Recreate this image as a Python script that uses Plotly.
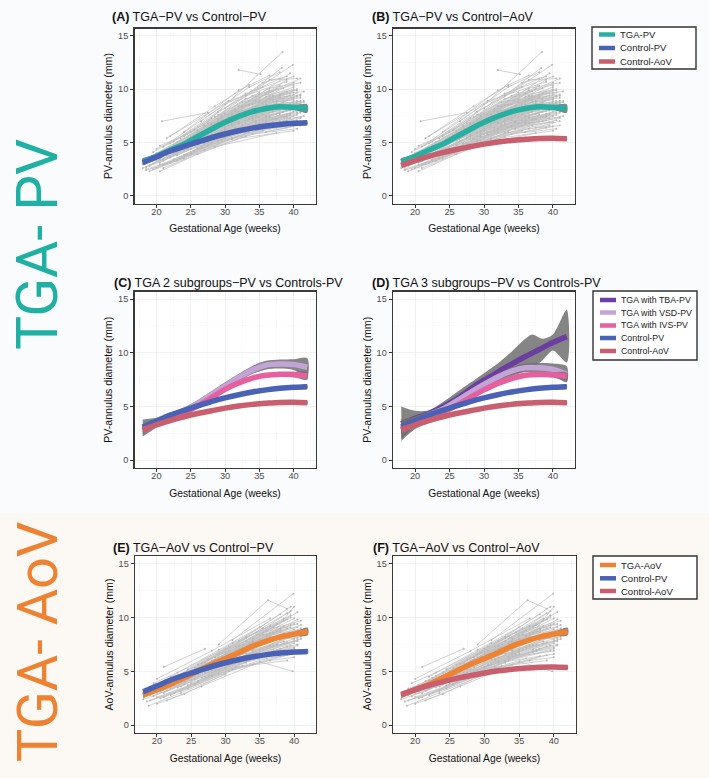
import plotly.graph_objects as go

# ---------------- data ----------------
WEEKS = [18, 20, 22, 24, 26, 28, 30, 32, 34, 36, 38, 40, 42]

TGA_PV = [3.2, 3.7, 4.3, 4.85, 5.55, 6.25, 6.9, 7.45, 7.9, 8.2, 8.35, 8.3, 8.2]
TGA_PV_CI = [0.35, 0.2, 0.15, 0.12, 0.12, 0.12, 0.12, 0.12, 0.12, 0.13, 0.15, 0.22, 0.4]
CTRL_PV = [3.1, 3.65, 4.2, 4.65, 5.05, 5.45, 5.8, 6.1, 6.35, 6.55, 6.7, 6.8, 6.85]
CTRL_PV_CI = [0.2, 0.12, 0.1, 0.1, 0.1, 0.1, 0.1, 0.1, 0.1, 0.1, 0.1, 0.12, 0.18]
CTRL_AOV = [2.85, 3.3, 3.7, 4.05, 4.35, 4.6, 4.85, 5.05, 5.2, 5.3, 5.38, 5.4, 5.35]
CTRL_AOV_CI = [0.2, 0.12, 0.1, 0.1, 0.1, 0.1, 0.1, 0.1, 0.1, 0.1, 0.1, 0.12, 0.18]

VSD_C = [3.0, 3.5, 4.05, 4.6, 5.3, 6.1, 6.9, 7.7, 8.4, 8.85, 8.95, 8.9, 8.65]
VSD_C_CI = [0.8, 0.45, 0.3, 0.28, 0.3, 0.32, 0.35, 0.35, 0.38, 0.4, 0.42, 0.5, 0.85]
IVS_C = [2.8, 3.4, 3.95, 4.45, 5.05, 5.8, 6.6, 7.2, 7.65, 7.9, 8.0, 7.98, 7.85]
IVS_C_CI = [0.35, 0.25, 0.18, 0.15, 0.15, 0.15, 0.15, 0.15, 0.15, 0.15, 0.18, 0.25, 0.35]

TBA_D = [3.4, 3.9, 4.35, 4.95, 5.7, 6.6, 7.45, 8.2, 8.95, 9.65, 10.3, 10.95, 11.5]
TBA_BAND_WEEKS = [18, 20, 22, 24, 26, 28, 30, 32, 34, 36, 37, 38.5, 40, 42]
TBA_UPPER = [5.0, 4.6, 4.65, 5.4, 6.3, 7.2, 8.1, 9.0, 10.1, 11.3, 11.7, 11.3, 11.7, 14.0]
TBA_LOWER = [1.8, 2.9, 3.5, 4.2, 5.0, 5.9, 6.7, 7.3, 7.8, 8.3, 8.6, 9.3, 10.2, 9.1]
VSD_D = [2.9, 3.6, 4.2, 4.75, 5.5, 6.3, 7.05, 7.75, 8.3, 8.6, 8.6, 8.45, 8.0]
VSD_D_CI = [0.9, 0.5, 0.35, 0.3, 0.3, 0.3, 0.3, 0.3, 0.35, 0.4, 0.45, 0.55, 0.75]
IVS_D = [2.8, 3.4, 3.95, 4.5, 5.1, 5.85, 6.55, 7.15, 7.6, 7.9, 7.98, 7.95, 7.8]
IVS_D_CI = [0.35, 0.25, 0.18, 0.15, 0.15, 0.15, 0.15, 0.15, 0.15, 0.15, 0.18, 0.25, 0.35]

TGA_AOV = [2.8, 3.3, 3.8, 4.4, 5.05, 5.65, 6.2, 6.75, 7.35, 7.8, 8.2, 8.45, 8.7]
TGA_AOV_CI = [0.3, 0.18, 0.12, 0.12, 0.12, 0.12, 0.12, 0.12, 0.12, 0.13, 0.15, 0.2, 0.35]

# individual TGA pulmonary-valve trajectories (week, mm)
PV_TRAJ = [
    [(18.5, 2.4), (25.0, 3.9), (33.5, 6.0)],
    [(19.0, 2.8), (27.0, 4.9), (36.0, 6.9)],
    [(19.5, 3.3), (24.0, 4.7), (31.0, 6.9), (38.5, 8.3)],
    [(20.0, 4.0), (28.0, 6.8), (37.0, 9.4)],
    [(20.0, 3.7), (26.5, 5.8), (34.5, 8.4)],
    [(20.5, 3.4), (29.5, 6.0), (39.0, 7.7)],
    [(21.0, 4.6), (30.0, 8.6), (38.0, 11.0)],
    [(21.0, 2.6), (28.5, 4.6), (37.5, 5.9)],
    [(20.8, 7.0), (27.5, 7.8)],
    [(21.5, 4.1), (32.0, 7.6), (40.0, 8.8)],
    [(22.0, 4.9), (29.0, 7.9), (35.5, 10.2)],
    [(22.0, 3.6), (30.5, 5.7), (40.5, 7.1)],
    [(22.5, 4.3), (31.5, 7.0)],
    [(23.0, 5.0), (33.0, 8.5), (39.5, 9.6)],
    [(23.5, 4.5), (30.0, 6.3), (36.5, 7.8)],
    [(32.0, 11.8), (35.2, 11.4)],
    [(26.0, 6.1), (38.4, 13.5)],
    [(24.0, 5.6), (34.0, 9.4), (40.0, 10.4)],
    [(24.5, 3.9), (33.0, 5.9), (39.5, 6.6)],
    [(25.0, 5.5), (31.0, 7.6), (37.0, 9.0)],
    [(25.5, 5.1), (35.0, 7.9), (40.5, 8.4)],
    [(26.0, 4.8), (34.5, 6.9)],
    [(26.5, 7.0), (33.5, 10.2), (38.0, 11.6)],
    [(27.0, 5.9), (36.0, 8.4), (41.0, 8.7)],
    [(27.5, 5.0), (37.5, 7.2)],
    [(28.0, 6.5), (35.5, 8.6)],
    [(28.5, 7.4), (39.0, 9.8)],
    [(29.0, 5.0), (36.5, 6.3), (41.0, 6.6)],
    [(29.5, 7.3), (38.0, 9.2)],
    [(30.0, 6.4), (37.0, 7.9), (41.5, 8.1)],
    [(18.0, 2.6), (22.0, 3.7), (30.0, 6.1)],
    [(18.5, 3.3), (23.0, 4.5), (29.5, 6.9), (36.0, 8.9)],
    [(19.0, 3.6), (25.5, 5.6), (32.5, 8.0)],
    [(19.0, 2.3), (24.0, 3.5), (31.0, 5.4), (39.0, 6.4)],
    [(19.5, 3.0), (28.0, 5.6), (35.0, 7.4)],
    [(20.0, 4.4), (25.0, 6.0), (33.0, 9.6), (40.0, 11.2)],
    [(20.5, 2.9), (26.0, 4.4), (34.0, 6.5), (41.0, 7.3)],
    [(20.5, 4.7), (27.0, 6.5), (36.5, 9.9)],
    [(21.0, 3.3), (29.0, 5.9), (38.5, 7.9)],
    [(21.5, 3.8), (27.5, 5.7), (35.0, 8.0)],
    [(21.5, 5.4), (30.5, 8.9), (39.0, 10.7)],
    [(22.0, 3.1), (31.0, 5.3), (40.0, 6.1)],
    [(22.5, 4.8), (28.0, 6.7), (37.5, 8.9)],
    [(23.0, 3.8), (29.5, 5.8), (38.0, 7.0)],
    [(23.5, 5.4), (32.5, 8.8), (41.0, 9.5)],
    [(24.0, 4.2), (32.0, 6.8), (40.5, 7.8)],
    [(24.5, 4.9), (30.5, 7.1), (36.0, 8.6)],
    [(25.0, 4.4), (34.0, 7.3), (39.5, 8.0)],
    [(25.5, 6.2), (33.0, 9.1), (38.5, 10.1)],
    [(26.0, 5.6), (31.5, 7.3), (40.0, 9.1)],
    [(26.5, 4.6), (35.5, 7.1)],
    [(27.0, 6.6), (34.5, 9.3), (40.5, 10.0)],
    [(27.5, 5.5), (32.0, 6.9), (38.0, 8.1)],
    [(28.0, 6.0), (37.0, 8.2), (41.0, 8.0)],
    [(28.5, 5.4), (36.0, 7.4)],
    [(29.0, 7.0), (35.0, 9.0), (40.0, 9.7)],
    [(29.5, 6.1), (38.5, 8.5)],
    [(30.0, 7.7), (36.5, 10.1), (41.0, 10.6)],
    [(30.5, 5.9), (39.0, 7.4)],
    [(31.0, 6.8), (37.5, 8.6), (41.5, 8.9)],
    [(31.5, 7.9), (38.0, 10.3)],
    [(32.0, 6.3), (39.5, 7.7)],
    [(32.5, 7.4), (40.0, 9.2)],
    [(33.0, 6.8), (37.0, 7.9), (41.0, 8.4)],
    [(33.5, 8.5), (39.0, 10.9)],
    [(34.0, 7.1), (40.5, 8.2)],
    [(34.5, 6.3), (38.5, 7.0), (41.5, 7.5)],
    [(35.0, 8.8), (40.0, 10.0)],
    [(35.5, 7.6), (41.0, 8.9)],
    [(36.0, 6.8), (40.0, 7.5)],
    [(18.0, 3.0), (21.5, 3.9), (28.0, 6.0), (34.0, 7.9)],
    [(18.5, 2.7), (26.5, 5.1), (36.5, 7.5)],
    [(19.0, 3.2), (24.5, 5.1), (30.5, 7.6), (37.5, 10.0)],
    [(19.5, 2.5), (27.5, 4.7), (37.0, 6.6)],
    [(20.0, 3.3), (23.5, 4.6), (32.5, 7.3), (39.5, 8.6)],
    [(20.5, 3.8), (30.0, 7.0), (40.5, 9.4)],
    [(21.0, 2.9), (25.0, 4.0), (33.5, 6.4), (40.0, 6.9)],
    [(21.5, 4.4), (29.0, 7.2), (36.0, 9.6), (41.0, 11.0)],
    [(22.0, 4.0), (28.5, 6.2), (35.0, 8.2)],
    [(22.5, 3.4), (32.0, 6.0), (39.0, 7.1)],
    [(23.0, 4.4), (31.0, 7.2), (40.0, 9.9)],
    [(23.5, 3.5), (30.0, 5.4), (37.0, 6.9)],
    [(24.0, 5.0), (33.5, 8.1), (41.0, 8.6)],
    [(24.5, 4.4), (29.0, 5.9), (38.5, 8.8)],
    [(25.0, 5.0), (36.5, 9.1)],
    [(25.5, 4.2), (31.5, 6.1), (39.5, 7.3)],
    [(26.0, 5.2), (34.0, 7.6), (40.0, 8.3)],
    [(26.5, 5.9), (35.0, 9.5), (39.5, 11.5)],
    [(27.0, 4.9), (36.0, 7.0), (41.0, 7.4)],
    [(27.5, 6.3), (37.0, 9.3)],
    [(28.0, 5.3), (34.5, 7.0), (39.5, 7.6)],
    [(28.5, 6.8), (38.0, 9.5), (41.5, 9.8)],
    [(29.0, 6.4), (35.5, 8.3)],
    [(29.5, 5.5), (40.0, 7.9)],
    [(30.0, 6.9), (38.5, 9.6)],
    [(30.5, 7.3), (36.0, 8.9), (40.5, 9.3)],
    [(31.0, 6.0), (37.0, 7.2)],
    [(31.5, 7.1), (39.5, 8.6)],
    [(29.0, 7.6), (39.9, 12.3)],
    [(33.0, 9.4), (38.3, 12.0)],
    [(35.5, 10.6), (39.0, 11.2)],
    [(30.0, 8.2), (36.5, 10.9), (40.5, 11.0)],
    [(19.5, 4.1), (22.5, 5.1), (28.0, 7.3)],
    [(34.0, 5.8), (40.5, 6.3)],
    [(36.0, 6.0), (40.0, 6.5)],
    [(20.5, 2.3), (26.0, 3.9), (33.0, 5.6)],
    [(18.0, 3.4), (23.5, 5.0), (31.5, 8.1)],
    [(18.5, 2.5), (22.5, 3.3), (29.0, 5.2), (35.5, 6.6)],
    [(19.0, 2.9), (26.0, 5.0), (33.0, 7.1), (39.5, 8.1)],
    [(19.5, 3.6), (25.0, 5.3), (32.0, 7.9), (38.0, 9.4)],
    [(20.0, 2.6), (27.0, 4.3), (35.5, 6.1)],
    [(20.0, 3.9), (29.5, 7.5), (37.5, 8.7)],
    [(20.5, 3.1), (24.5, 4.4), (31.0, 6.6), (38.0, 7.8)],
    [(21.0, 4.0), (27.0, 6.1), (34.5, 8.9)],
    [(21.0, 3.4), (30.0, 6.7), (37.0, 8.3)],
    [(21.5, 3.0), (29.5, 5.2), (39.5, 6.9)],
    [(22.0, 4.5), (26.0, 5.9), (32.5, 8.4), (39.0, 9.3)],
    [(22.5, 3.9), (27.5, 5.4), (34.0, 7.3)],
    [(23.0, 4.1), (31.5, 7.5), (38.5, 9.1)],
    [(23.0, 3.3), (28.0, 4.9), (36.5, 6.8)],
    [(23.5, 4.8), (33.5, 8.9), (40.5, 9.9)],
    [(24.0, 3.8), (30.5, 6.0), (39.0, 7.5)],
    [(24.5, 5.3), (32.0, 8.4), (37.0, 9.8)],
    [(25.0, 4.1), (29.5, 5.6), (36.0, 7.5)],
    [(25.5, 5.7), (33.5, 8.6), (40.0, 9.5)],
    [(26.0, 4.5), (32.5, 6.7), (38.5, 7.4)],
    [(26.5, 5.4), (34.0, 8.2), (40.5, 8.9)],
    [(27.0, 5.5), (33.0, 7.4), (38.5, 8.7)],
    [(27.5, 6.8), (35.0, 9.7)],
    [(28.0, 5.7), (36.0, 8.0), (41.0, 8.3)],
    [(28.5, 6.1), (35.5, 7.9), (40.0, 8.6)],
    [(29.0, 5.6), (37.5, 7.7)],
    [(29.5, 6.7), (37.0, 8.8), (41.0, 9.2)],
    [(30.0, 5.8), (36.0, 7.1), (40.5, 7.6)],
    [(30.5, 6.6), (38.5, 8.4)],
    [(31.0, 7.7), (36.5, 9.4), (40.0, 10.2)],
    [(31.5, 6.4), (38.0, 7.6)],
    [(32.0, 7.3), (37.5, 8.9), (41.0, 9.4)],
    [(32.5, 6.5), (39.0, 8.0)],
    [(33.0, 8.0), (39.5, 9.4)],
    [(33.5, 7.2), (38.0, 8.4), (41.5, 8.8)],
    [(34.0, 8.6), (40.0, 9.0)],
    [(34.5, 7.5), (39.5, 8.3)],
    [(35.0, 6.8), (41.0, 7.8)],
    [(35.5, 8.2), (40.5, 8.7)],
    [(36.0, 9.3), (40.0, 10.6)],
    [(36.5, 7.3), (41.0, 8.0)],
    [(37.0, 8.0), (40.5, 9.7)],
    [(37.5, 6.4), (41.0, 7.0)],
    [(22.0, 5.6), (28.5, 8.4), (33.5, 10.4)],
    [(24.0, 6.0), (32.0, 9.9), (36.5, 11.3)],
]

# individual TGA aortic-valve trajectories (week, mm)
AOV_TRAJ = [
    [(18.0, 2.4), (24.0, 3.8), (32.0, 6.0)],
    [(18.5, 2.9), (25.0, 4.6), (34.5, 7.4)],
    [(18.8, 1.8), (23.5, 3.0), (30.0, 4.7)],
    [(19.0, 3.4), (26.0, 5.2), (36.0, 8.3)],
    [(19.5, 2.7), (27.5, 4.9), (37.0, 7.0)],
    [(20.0, 3.0), (24.5, 4.3), (31.0, 6.4), (38.5, 8.5)],
    [(20.0, 4.3), (28.0, 6.9), (36.5, 9.9)],
    [(20.5, 2.5), (29.0, 4.8), (38.0, 6.4)],
    [(21.0, 3.6), (30.0, 6.6), (39.5, 9.1)],
    [(21.0, 5.4), (27.0, 7.1)],
    [(21.5, 3.2), (28.5, 5.4), (35.0, 7.0)],
    [(22.0, 3.9), (31.5, 6.9), (40.0, 8.9)],
    [(22.0, 2.8), (30.5, 5.0), (39.0, 6.5)],
    [(22.5, 4.4), (29.5, 6.7), (37.5, 9.4)],
    [(23.0, 3.5), (32.0, 6.3), (40.5, 7.9)],
    [(23.5, 4.0), (30.0, 5.9), (36.0, 7.6)],
    [(24.0, 4.9), (33.0, 8.1), (39.5, 10.6)],
    [(24.5, 3.7), (34.0, 6.4), (40.0, 7.2)],
    [(25.0, 4.5), (31.0, 6.3), (38.0, 8.2)],
    [(25.5, 5.3), (35.5, 9.0)],
    [(26.0, 4.1), (33.5, 6.3), (40.0, 6.9)],
    [(26.5, 5.0), (36.0, 8.1), (41.0, 8.6)],
    [(27.0, 5.8), (34.5, 8.6), (39.5, 10.0)],
    [(27.5, 4.6), (37.0, 6.8)],
    [(28.0, 5.5), (36.5, 8.2)],
    [(28.5, 6.3), (38.5, 9.7)],
    [(29.0, 5.1), (39.0, 7.3)],
    [(29.5, 6.0), (36.0, 7.9), (41.0, 8.5)],
    [(30.0, 6.8), (39.5, 10.2)],
    [(30.5, 5.6), (40.0, 7.8)],
    [(31.0, 6.5), (37.5, 8.3), (41.5, 8.9)],
    [(31.5, 7.3), (39.0, 9.8)],
    [(32.0, 5.8), (39.5, 6.9)],
    [(32.5, 6.9), (40.0, 8.6)],
    [(33.0, 7.8), (39.0, 10.4)],
    [(33.5, 6.2), (40.5, 7.4)],
    [(34.0, 7.4), (41.0, 9.0)],
    [(35.0, 5.9), (39.8, 5.0)],
    [(35.0, 8.3), (40.0, 9.9)],
    [(35.5, 7.0), (40.5, 7.8)],
    [(29.0, 7.5), (36.2, 11.6), (39.0, 10.8)],
    [(31.0, 7.9), (39.9, 12.2)],
    [(18.5, 3.1), (22.0, 4.2), (28.5, 6.1), (35.0, 8.0)],
    [(19.0, 2.3), (25.5, 3.8), (33.0, 5.8)],
    [(19.5, 3.9), (23.0, 4.9), (30.5, 7.3)],
    [(20.0, 3.4), (26.5, 5.4), (35.5, 8.6), (40.5, 9.4)],
    [(20.5, 3.1), (27.0, 4.9), (35.0, 6.8)],
    [(21.0, 2.6), (28.0, 4.6), (36.0, 6.2)],
    [(21.5, 4.1), (29.0, 6.3), (37.5, 8.7)],
    [(22.0, 3.4), (26.0, 4.7), (33.5, 7.4), (40.0, 8.3)],
    [(22.5, 3.7), (31.0, 6.1), (38.5, 7.6)],
    [(23.0, 4.6), (30.0, 7.1), (38.0, 10.3)],
    [(23.5, 3.2), (31.5, 5.4), (39.0, 6.0)],
    [(24.0, 4.4), (32.5, 7.2), (40.5, 9.8)],
    [(24.5, 5.2), (31.0, 7.6), (36.5, 9.2)],
    [(25.0, 3.9), (33.0, 5.9), (40.0, 6.6)],
    [(25.5, 4.8), (34.0, 7.8), (40.5, 8.1)],
    [(26.0, 5.6), (32.0, 7.4), (38.0, 9.0)],
    [(26.5, 4.4), (34.5, 6.6)],
    [(27.0, 5.3), (36.0, 8.8), (41.0, 9.7)],
    [(27.5, 6.1), (35.0, 8.0)],
    [(28.0, 4.9), (37.5, 7.5)],
    [(28.5, 5.8), (34.0, 7.0), (40.0, 8.0)],
    [(29.0, 6.6), (37.0, 9.1)],
    [(30.0, 5.4), (38.0, 7.1)],
    [(30.5, 6.3), (37.0, 7.9), (41.0, 8.2)],
    [(31.0, 5.2), (36.5, 6.0), (40.0, 6.3)],
    [(32.0, 7.1), (40.5, 10.5)],
    [(33.0, 6.6), (38.5, 7.8)],
    [(34.0, 8.0), (39.5, 9.3)],
    [(36.0, 7.2), (41.0, 8.0)],
    [(37.0, 8.6), (40.0, 11.0)],
    [(20.0, 2.0), (24.0, 2.9), (30.0, 4.8)],
    [(21.5, 2.3), (26.5, 3.6), (34.0, 5.6)],
    [(18.0, 2.9), (23.0, 4.0), (30.5, 6.2)],
    [(18.5, 2.2), (24.5, 3.4), (32.5, 5.5)],
    [(19.0, 2.8), (25.0, 4.2), (31.5, 6.1), (38.0, 7.9)],
    [(19.5, 3.3), (27.0, 5.5), (34.0, 7.7)],
    [(20.0, 2.6), (26.0, 4.0), (33.5, 6.0)],
    [(20.5, 3.7), (25.5, 5.0), (32.0, 7.3), (39.0, 9.0)],
    [(21.0, 3.0), (28.0, 5.1), (36.5, 7.4)],
    [(21.5, 3.6), (27.5, 5.6), (35.5, 7.9)],
    [(22.0, 4.5), (29.0, 7.0), (35.0, 9.1)],
    [(22.5, 3.0), (30.0, 5.2), (37.5, 6.9)],
    [(23.0, 4.0), (29.5, 6.1), (38.0, 8.8)],
    [(23.5, 3.6), (31.0, 5.7), (39.5, 7.4)],
    [(24.0, 4.1), (30.5, 6.4), (37.0, 8.5)],
    [(24.5, 4.6), (33.5, 7.6), (41.0, 9.3)],
    [(25.0, 5.0), (32.0, 7.8), (38.5, 9.9)],
    [(25.5, 4.3), (31.5, 6.0), (39.0, 7.7)],
    [(26.0, 4.9), (35.0, 7.7), (41.0, 8.9)],
    [(26.5, 5.7), (33.0, 8.2), (39.5, 11.0)],
    [(27.0, 4.5), (34.0, 6.6), (40.0, 7.6)],
    [(27.5, 5.2), (36.5, 7.8)],
    [(28.0, 6.0), (35.5, 8.4), (40.5, 8.8)],
    [(28.5, 5.0), (35.0, 6.6)],
    [(29.0, 5.8), (38.0, 8.6)],
    [(29.5, 6.4), (36.5, 8.5), (40.5, 9.1)],
    [(30.0, 6.1), (37.0, 7.4)],
    [(30.5, 6.9), (38.5, 9.2)],
    [(31.5, 6.0), (39.5, 8.2)],
    [(32.5, 7.5), (38.0, 8.9)],
    [(33.0, 6.0), (40.0, 7.1)],
    [(34.0, 6.9), (39.0, 8.1)],
    [(35.0, 7.6), (41.0, 8.4)],
    [(36.0, 8.3), (40.0, 9.4)],
    [(37.5, 7.0), (40.5, 7.5)],
]

X_TICKS = [20, 25, 30, 35, 40]
Y_TICKS = [0, 5, 10, 15]

# ---------------- styling ----------------
W, H = 709, 778
FONT = "Liberation Sans, Arial, Helvetica, sans-serif"
C_TEAL = "#27b0a2"
C_BLUE = "#4a62b6"
C_RED = "#c95f6e"
C_ORANGE = "#ee8334"
C_PURPLE = "#6a3f9f"
C_LAV = "#c3a4d6"
C_PINK = "#e85f9f"
BAND = "rgba(112,112,112,0.85)"
LW = 5.5

# panel boxes in pixels: (left, right, top, bottom)
PANELS = [
    (134.5, 315.5, 28.5, 203.5),
    (393.0, 575.0, 28.5, 203.5),
    (134.5, 315.5, 291.5, 468.0),
    (393.0, 575.0, 291.5, 468.0),
    (135.0, 316.0, 556.0, 733.0),
    (393.0, 576.0, 556.0, 733.0),
]
TITLES = [
    ("<b>(A)</b> TGA\u2212PV vs Control\u2212PV", 110, 17),
    ("<b>(B)</b> TGA\u2212PV vs Control\u2212AoV", 370, 17),
    ("<b>(C)</b> TGA 2 subgroups\u2212PV vs Controls-PV", 112, 283),
    ("<b>(D)</b> TGA 3 subgroups\u2212PV vs Controls-PV", 370, 283),
    ("<b>(E)</b> TGA\u2212AoV vs Control\u2212PV", 111, 548),
    ("<b>(F)</b> TGA\u2212AoV vs Control\u2212AoV", 371, 548),
]
YTITLES = ["PV-annulus diameter (mm)"] * 4 + ["AoV-annulus diameter (mm)"] * 2

# manual legends: box (left, right, top, bottom), font size, entries (name, color, y)
LEGENDS = [
    ((592, 696, 27, 69), 9.5, [("TGA-PV", C_TEAL, 34.5), ("Control-PV", C_BLUE, 48),
                                ("Control-AoV", C_RED, 61.5)]),
    ((593, 697, 291, 360), 8.8, [("TGA with TBA-PV", C_PURPLE, 300), ("TGA with VSD-PV", C_LAV, 312.5),
                                  ("TGA with IVS-PV", C_PINK, 325.5), ("Control-PV", C_BLUE, 338),
                                  ("Control-AoV", C_RED, 351)]),
    ((593, 697, 556, 599), 9.5, [("TGA-AoV", C_ORANGE, 565), ("Control-PV", C_BLUE, 578.3),
                                  ("Control-AoV", C_RED, 591)]),
]

fig = go.Figure()


def axn(i):
    return ("x" if i == 0 else f"x{i+1}"), ("y" if i == 0 else f"y{i+1}")


def add_spaghetti(i, traj):
    xa, ya = axn(i)
    xs, ys = [], []
    for t in traj:
        for w, v in t:
            xs.append(w)
            ys.append(v)
        xs.append(None)
        ys.append(None)
    fig.add_trace(go.Scatter(
        x=xs, y=ys, mode="lines+markers", xaxis=xa, yaxis=ya,
        line=dict(color="#c2c2c2", width=0.75),
        marker=dict(size=2.0, color="#b8b8b8"),
        showlegend=False, hoverinfo="skip", connectgaps=False))


def add_band(i, x, up, lo):
    xa, ya = axn(i)
    fig.add_trace(go.Scatter(
        x=list(x) + list(x)[::-1], y=list(up) + list(lo)[::-1],
        mode="lines", fill="toself", fillcolor=BAND,
        line=dict(width=0, shape="spline", smoothing=0.8),
        xaxis=xa, yaxis=ya, showlegend=False, hoverinfo="skip"))


def add_smooth(i, y, ci, color, band=True):
    if band:
        up = [a + b for a, b in zip(y, ci)]
        lo = [a - b for a, b in zip(y, ci)]
        add_band(i, WEEKS, up, lo)
    xa, ya = axn(i)
    fig.add_trace(go.Scatter(
        x=WEEKS, y=y, mode="lines", xaxis=xa, yaxis=ya,
        line=dict(color=color, width=LW, shape="spline", smoothing=1.0),
        showlegend=False, hoverinfo="skip"))


# A
add_spaghetti(0, PV_TRAJ)
add_smooth(0, TGA_PV, TGA_PV_CI, C_TEAL)
add_smooth(0, CTRL_PV, CTRL_PV_CI, C_BLUE)
# B
add_spaghetti(1, PV_TRAJ)
add_smooth(1, TGA_PV, TGA_PV_CI, C_TEAL)
add_smooth(1, CTRL_AOV, CTRL_AOV_CI, C_RED)
# C
add_smooth(2, VSD_C, VSD_C_CI, C_LAV)
add_smooth(2, IVS_C, IVS_C_CI, C_PINK)
add_smooth(2, CTRL_PV, CTRL_PV_CI, C_BLUE)
add_smooth(2, CTRL_AOV, CTRL_AOV_CI, C_RED)
# D
add_band(3, TBA_BAND_WEEKS, TBA_UPPER, TBA_LOWER)
add_smooth(3, TBA_D, None, C_PURPLE, band=False)
add_smooth(3, VSD_D, VSD_D_CI, C_LAV)
add_smooth(3, IVS_D, IVS_D_CI, C_PINK)
add_smooth(3, CTRL_PV, CTRL_PV_CI, C_BLUE)
add_smooth(3, CTRL_AOV, CTRL_AOV_CI, C_RED)
# E
add_spaghetti(4, AOV_TRAJ)
add_smooth(4, TGA_AOV, TGA_AOV_CI, C_ORANGE)
add_smooth(4, CTRL_PV, CTRL_PV_CI, C_BLUE)
# F
add_spaghetti(5, AOV_TRAJ)
add_smooth(5, TGA_AOV, TGA_AOV_CI, C_ORANGE)
add_smooth(5, CTRL_AOV, CTRL_AOV_CI, C_RED)

layout = dict(
    width=W, height=H, autosize=False,
    margin=dict(l=0, r=0, t=0, b=0),
    paper_bgcolor="#f9fbfc", plot_bgcolor="rgba(0,0,0,0)",
    font=dict(family=FONT, color="#222222"),
    hovermode=False, showlegend=False,
)

for i, (l, r, t, b) in enumerate(PANELS):
    xk = "xaxis" if i == 0 else f"xaxis{i+1}"
    yk = "yaxis" if i == 0 else f"yaxis{i+1}"
    xa, ya = axn(i)
    layout[xk] = dict(
        domain=[l / W, r / W], anchor=ya, range=[16.8, 43.2],
        tickmode="array", tickvals=X_TICKS, ticks="outside", ticklen=3,
        ticklabelstandoff=-4,
        tickcolor="#333333", tickfont=dict(size=9.2, color="#4d4d4d"),
        showgrid=True, gridcolor="#e8e8e8", gridwidth=0.6,
        minor=dict(tickmode="array", tickvals=[17.5, 22.5, 27.5, 32.5, 37.5, 42.5],
                   showgrid=True, gridcolor="#f2f2f2", gridwidth=0.4),
        showline=True, mirror=True, linecolor="#3a3a3a", linewidth=1.4,
        zeroline=False, fixedrange=True,
        title=dict(text="Gestational Age (weeks)", font=dict(size=10.3, color="#111111"),
                   standoff=9),
    )
    layout[yk] = dict(
        domain=[1 - b / H, 1 - t / H], anchor=xa, range=[-0.72, 15.7],
        tickmode="array", tickvals=Y_TICKS, ticks="outside", ticklen=3,
        tickcolor="#333333", tickfont=dict(size=9.2, color="#4d4d4d"),
        showgrid=True, gridcolor="#e8e8e8", gridwidth=0.6,
        minor=dict(tickmode="array", tickvals=[2.5, 7.5, 12.5],
                   showgrid=True, gridcolor="#f2f2f2", gridwidth=0.4),
        showline=True, mirror=True, linecolor="#3a3a3a", linewidth=1.4,
        zeroline=False, fixedrange=True,
        title=dict(text=YTITLES[i], font=dict(size=10.6, color="#111111"), standoff=3),
    )

shapes = [
    dict(type="rect", xref="paper", yref="paper", x0=0, x1=1, y0=0, y1=1 - 513 / H,
         fillcolor="#fcf8f4", line=dict(width=0), layer="below"),
]
for (l, r, t, b) in PANELS:
    shapes.append(dict(type="rect", xref="paper", yref="paper", x0=l / W, x1=r / W,
                       y0=1 - b / H, y1=1 - t / H, fillcolor="#ffffff",
                       line=dict(width=0), layer="below"))

annotations = []
for (l, r, t, b), fs, entries in LEGENDS:
    shapes.append(dict(type="rect", xref="paper", yref="paper", x0=l / W, x1=r / W,
                       y0=1 - b / H, y1=1 - t / H, fillcolor="#ffffff",
                       line=dict(width=1.4, color="#333333"), layer="above"))
    for name, color, ypx in entries:
        shapes.append(dict(type="line", xref="paper", yref="paper",
                           x0=(l + 7) / W, x1=(l + 23) / W, y0=1 - ypx / H, y1=1 - ypx / H,
                           line=dict(width=4.5, color=color), layer="above"))
        annotations.append(dict(
            text=name, xref="paper", yref="paper", x=(l + 26) / W, y=1 - ypx / H,
            xanchor="left", yanchor="middle", showarrow=False,
            font=dict(size=fs, color="#222222", family=FONT)))

for text, xpx, ypx in TITLES:
    annotations.append(dict(
        text=text, xref="paper", yref="paper", x=xpx / W, y=1 - ypx / H,
        xanchor="left", yanchor="middle", showarrow=False,
        font=dict(size=12.5, color="#111111", family=FONT)))
annotations.append(dict(
    text="TGA- PV", xref="paper", yref="paper", x=38 / W, y=1 - 245 / H,
    xanchor="center", yanchor="middle", textangle=-90, showarrow=False,
    font=dict(size=57, color="#1fb0a3", family="Roboto, Liberation Sans, sans-serif")))
annotations.append(dict(
    text="TGA- AoV", xref="paper", yref="paper", x=38 / W, y=1 - 642 / H,
    xanchor="center", yanchor="middle", textangle=-90, showarrow=False,
    font=dict(size=56, color="#ee8132", family="Roboto, Liberation Sans, sans-serif")))

layout["shapes"] = shapes
layout["annotations"] = annotations

fig.update_layout(**layout)
fig.write_html("out.html", config={"displayModeBar": False, "staticPlot": True},
               post_script="document.body.style.margin='0';")
